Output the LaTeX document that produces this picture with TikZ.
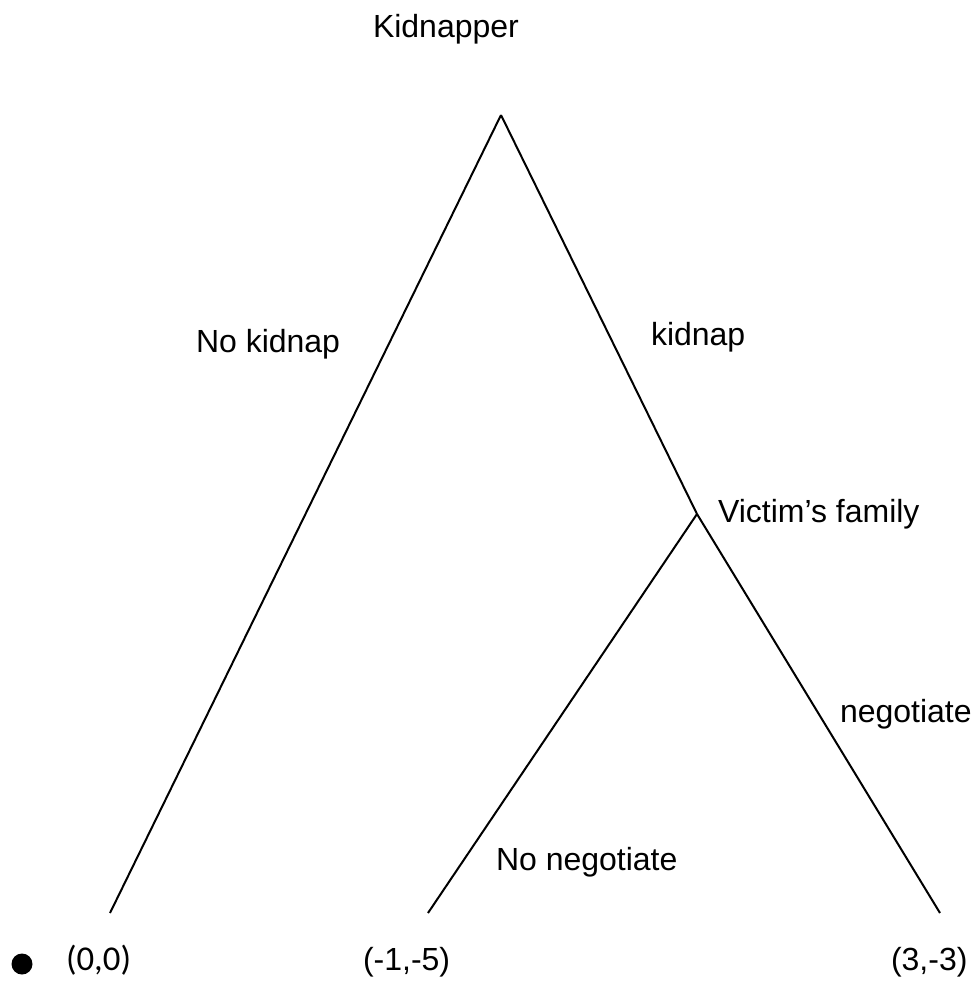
\documentclass[tikz,border=0pt]{standalone}
\usepackage{fontspec}
\setmainfont{Liberation Sans}
\newfontfamily\calfont{Carlito}

\begin{document}
\begin{tikzpicture}[x=0.5pt,y=-0.5pt,line width=1pt,
    lbl/.style={anchor=base west,inner sep=0pt,font=\fontsize{16}{19}\selectfont},
    payoff/.style={lbl}]
    \useasboundingbox (0,0) rectangle (979,987);

    % decision points and end points
    \coordinate (root)   at (501,115);
    \coordinate (family) at (697,514);
    \coordinate (noKid)  at (110,913);
    \coordinate (noNeg)  at (428,913);
    \coordinate (neg)    at (940,913);

    \draw (root) -- (noKid);
    \draw (root) -- (family);
    \draw (family) -- (noNeg);
    \draw (family) -- (neg);

    % players and moves
    \node [lbl] (kidnapper) at (372,37)  {Kidnapper};
    \node [lbl] (nokidnap)  at (195,352) {No kidnap};
    \node [lbl] (kidnap)    at (650,345) {kidnap};
    \node [lbl] (victim)    at (717,522) {Victim’s family};
    \node [lbl] (negotiate) at (839,722) {negotiate};
    \node [lbl] (nonego)    at (495,870) {No negotiate};

    % payoffs
    \node [circle,fill,inner sep=0pt,minimum size=10.5pt] (dot) at (22,964) {};
    \node [payoff,font=\fontsize{17.4}{21}\calfont] (payA) at (65,970) {(0,0)};
    \node [payoff] (payB) at (362,970) {(-1,-5)};
    \node [payoff] (payC) at (890,970) {(3,-3)};
\end{tikzpicture}
\end{document}
